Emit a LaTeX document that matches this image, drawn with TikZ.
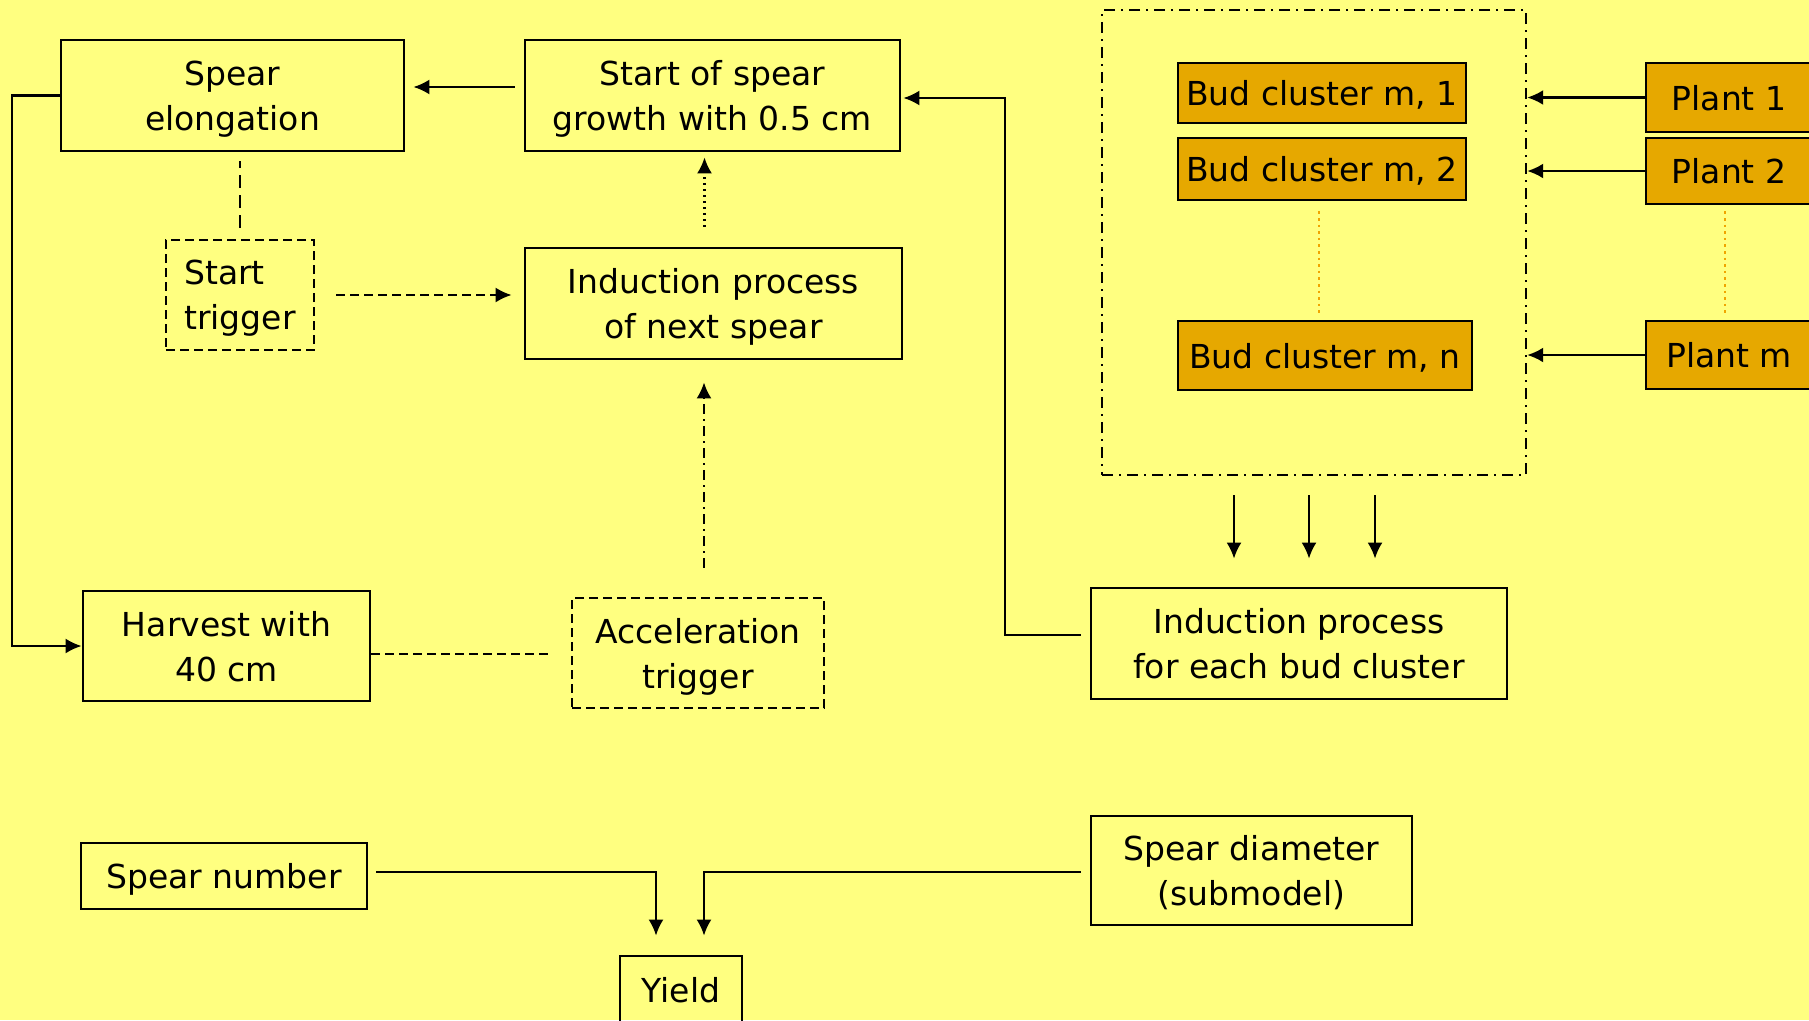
\documentclass[tikz,border=0pt]{standalone}
\usepackage{fontspec}
\setmainfont{DejaVu Sans}
\usetikzlibrary{arrows.meta}
\usepackage{xcolor}
\definecolor{slidebg}{RGB}{255,255,128}
\definecolor{budfill}{RGB}{230,168,0}
\definecolor{budline}{RGB}{240,165,0}

\begin{document}
\begin{tikzpicture}[x=1pt,y=-1pt,>={Latex[length=16pt,width=15pt]}]
\tikzstyle{every node} = [font=\fontsize{33}{45}\selectfont]
\tikzstyle{block} = [rectangle, draw, line width=2.8pt, align=center, inner sep=0pt, text depth=0pt]
\tikzstyle{trigger} = [block, line width=2.4pt, dash pattern=on 9pt off 5pt]
\tikzstyle{bud} = [block, fill=budfill]
\tikzstyle{line} = [draw, line width=2.2pt, ->];
\tikzstyle{dots} = [draw=budline, line width=2.6pt, dash pattern=on 2.6pt off 4pt];

\fill[slidebg] (0,0) rectangle (1809,1020);
\clip (0,0) rectangle (1809,1020);

% spear loop
\node [block, minimum width=343pt, minimum height=111pt] (elong) at (232.5,95.5) {Spear\\elongation};
\node [block, minimum width=375pt, minimum height=111pt] (start) at (712.5,95.5) {Start of spear\\growth with 0.5 cm};
\node [trigger, align=left, minimum width=148pt, minimum height=110pt] (strig) at (240,295) {Start\\trigger};
\node [block, minimum width=377pt, minimum height=111pt] (indnext) at (713.5,303.5) {Induction process\\of next spear};
\node [block, minimum width=287pt, minimum height=110pt] (harvest) at (226.5,646) {Harvest with\\40 cm};
\node [trigger, minimum width=252pt, minimum height=110pt] (acctrig) at (698,653) {Acceleration\\trigger};

% bud clusters and plants
\node [draw, line width=2.4pt, dash pattern=on 11pt off 6pt on 2pt off 6pt,
  minimum width=424pt, minimum height=465pt, inner sep=0pt] (cluster) at (1314,242.5) {};
\node [bud, minimum width=288pt, minimum height=60pt] (bud1) at (1322,93) {Bud cluster m, 1};
\node [bud, minimum width=288pt, minimum height=62pt] (bud2) at (1322,169) {Bud cluster m, 2};
\node [bud, minimum width=294pt, minimum height=69pt] (budn) at (1325,355.5) {Bud cluster m, n};
\node [bud, minimum width=166pt, minimum height=69pt] (plant1) at (1729,97.5) {Plant 1};
\node [bud, minimum width=166pt, minimum height=66pt] (plant2) at (1729,171) {Plant 2};
\node [bud, minimum width=166pt, minimum height=68pt] (plantm) at (1729,355) {Plant m};
\node [block, minimum width=416pt, minimum height=111pt] (indbud) at (1299,643.5) {Induction process\\for each bud cluster};

% yield
\node [block, minimum width=286pt, minimum height=66pt] (spnum) at (224,876) {Spear number};
\node [block, minimum width=321pt, minimum height=109pt] (spdiam) at (1251.5,870.5) {Spear diameter\\(submodel)};
\node [block, minimum width=122pt, minimum height=68pt] (yield) at (681,990) {Yield};

\path [line, shorten <=9pt, shorten >=8pt] ([yshift=8.5pt]start.west) -- ([yshift=8.5pt]elong.east);
\path [line] (elong.west) -- ++(-48,0) |- (harvest.west);
\path [draw, line width=2.2pt, dash pattern=on 13pt off 7pt, shorten <=11pt, shorten >=9pt] (strig.north) -- (strig.north |- elong.south);
\path [line, dash pattern=on 9pt off 5pt, shorten <=21pt, shorten >=12pt] (strig.east) -- (strig.east -| indnext.west);
\path [line, dash pattern=on 2pt off 4pt, shorten <=20pt, shorten >=5pt] ([xshift=-9pt]indnext.north) -- ([xshift=-9pt]indnext.north |- start.south);
\path [line, dash pattern=on 10pt off 5pt on 2pt off 5pt, shorten <=29pt, shorten >=22pt] ([xshift=6pt]acctrig.north) -- ([xshift=6pt]acctrig.north |- indnext.south);
\path [draw, line width=2.2pt, dash pattern=on 9pt off 5pt, shorten >=21pt] ([yshift=-8pt]harvest.east) -- ([yshift=-8pt]harvest.east -| acctrig.west);
\path [line, shorten <=9pt, shorten >=2pt] ([yshift=8.5pt]indbud.west) -- ++(-85,0) |- ([yshift=-2.5pt]start.east);

\foreach \p in {plant1,plant2,plantm}
  \path [line] (\p.west) -- (\p.west -| cluster.east);
\path [dots, shorten <=10pt, shorten >=7pt] ([xshift=-3pt]bud2.south) -- ([xshift=-3pt]bud2.south |- budn.north);
\path [dots, shorten <=6pt, shorten >=7pt] ([xshift=-4pt]plant2.south) -- ([xshift=-4pt]plant2.south |- plantm.north);
\foreach \dx in {-80,-5,61}
  \path [line, shorten <=19pt, shorten >=28pt] ([xshift=\dx pt]cluster.south) -- ([xshift=\dx pt]cluster.south |- indbud.north);

\path [line, shorten <=8pt, shorten >=19pt] ([yshift=4pt]spnum.east) -| ([xshift=-25pt]yield.north);
\path [line, shorten <=9pt, shorten >=19pt] ([yshift=-1.5pt]spdiam.west) -| ([xshift=23pt]yield.north);
\end{tikzpicture}
\end{document}
